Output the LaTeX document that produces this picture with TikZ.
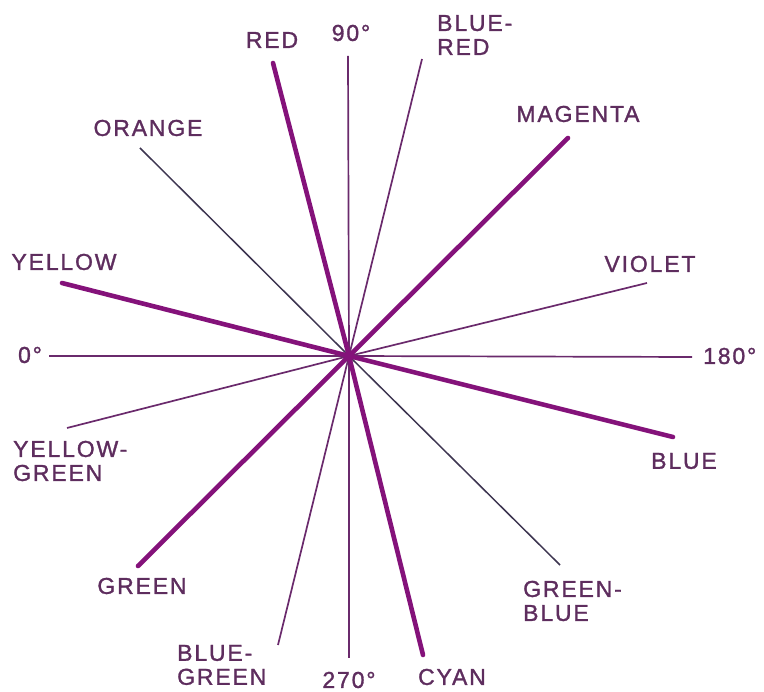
\documentclass[tikz,border=0pt]{standalone}
\usepackage{fontspec}
\setmainfont{Liberation Sans}
\newfontfamily\huefont[LetterSpace=8,FakeBold=1.3]{Liberation Sans}
\usetikzlibrary{positioning}
\definecolor{wheeltext}{HTML}{5E2D5E}
\definecolor{wheelhue}{HTML}{84127A}
\definecolor{wheelthin}{HTML}{6A2A6C}
\definecolor{wheeldark}{HTML}{3D3550}
\newcommand\huelabel{\huefont\fontsize{23}{24}\selectfont}

\begin{document}
\begin{tikzpicture}[
  x=1pt, y=-1pt,
  font=\huelabel,
  lab/.style={text=wheeltext, inner sep=0pt, align=left},
  axisspoke/.style={line width=1.7pt, draw=wheelthin},
  thinspoke/.style={line width=1.7pt, draw=wheelthin},
  darkspoke/.style={line width=1.5pt, draw=wheeldark},
  huespoke/.style={line width=4.6pt, draw=wheelhue, line cap=round}
]
\useasboundingbox (0,0) rectangle (764,692);
% ----- centre and spoke ends -----
\coordinate (c) at (349,356);
\coordinate (e90) at (348,56);
\coordinate (e270) at (349,658);
\coordinate (e0) at (49,356);
\coordinate (e180) at (692,357);
\coordinate (ered) at (273,63);
\coordinate (eblred) at (422,59);
\coordinate (emag) at (568,138);
\coordinate (eorange) at (140,148);
\coordinate (eyel) at (62,283);
\coordinate (evio) at (647,283);
\coordinate (eyg) at (67,428);
\coordinate (eblue) at (673,437);
\coordinate (egreen) at (138,566);
\coordinate (egb) at (560,565);
\coordinate (ebg) at (278,645);
\coordinate (ecyan) at (423,655);
% ----- spokes -----
\foreach \e in {e90,e270,e0,e180}{\draw[axisspoke] (c) -- (\e);}
\foreach \e in {eblred,evio,eyg,ebg}{\draw[thinspoke] (c) -- (\e);}
\foreach \e in {eorange,egb}{\draw[darkspoke] (c) -- (\e);}
\foreach \e in {ered,emag,eyel,eblue,egreen,ecyan}{\draw[huespoke] (c) -- (\e);}
\fill[wheelhue] (c) circle (5pt);
% ----- labels -----
\node[lab] (l90) at (351,33) {90°};
\node[lab] (lred) at (272,40) {RED};
\node[lab, anchor=west] (lblred) at (437,35) {BLUE-\\RED};
\node[lab] (lorange) at (148,128) {ORANGE};
\node[lab] (lmag) at (578,114) {MAGENTA};
\node[lab] (lyel) at (64,262) {YELLOW};
\node[lab] (lvio) at (650,264) {VIOLET};
\node[lab] (l0) at (30,355) {0°};
\node[lab, anchor=west] (l180) at (703,356) {180°};
\node[lab, anchor=west] (lyg) at (13,461) {YELLOW-\\GREEN};
\node[lab] (lblue) at (684,461) {BLUE};
\node[lab] (lgreen) at (142,586) {GREEN};
\node[lab, anchor=west] (lgb) at (523,601) {GREEN-\\BLUE};
\node[lab, anchor=west] (lbg) at (177,665) {BLUE-\\GREEN};
\node[lab] (l270) at (349,680) {270°};
\node[lab] (lcyan) at (452,677) {CYAN};
\end{tikzpicture}
\end{document}
